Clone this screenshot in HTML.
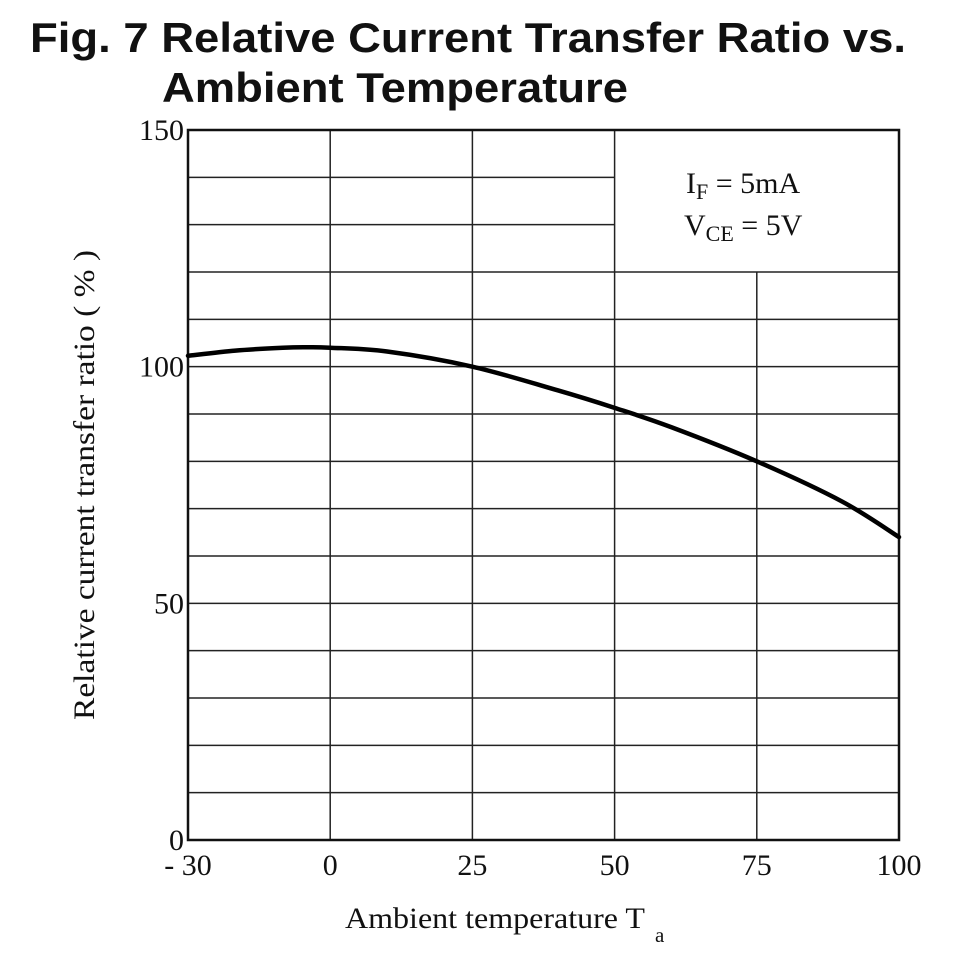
<!DOCTYPE html>
<html><head><meta charset="utf-8"><style>
html,body{margin:0;padding:0;background:#fff;}
svg{display:block;}
</style></head><body>
<svg id="chart" width="958" height="958" viewBox="0 0 958 958" xmlns="http://www.w3.org/2000/svg">
<text x="30" y="52" textLength="876" lengthAdjust="spacingAndGlyphs" font-family="Liberation Sans, sans-serif" font-weight="bold" font-size="42" fill="#111">Fig. 7 Relative Current Transfer Ratio vs.</text>
<text x="162" y="102" textLength="466" lengthAdjust="spacingAndGlyphs" font-family="Liberation Sans, sans-serif" font-weight="bold" font-size="42" fill="#111">Ambient Temperature</text>
<g id="grid"></g>
<g id="ticks"></g>
<g id="legend">
<text x="686" y="193" font-family="Liberation Serif, serif" font-size="30" fill="#111">I<tspan font-size="22" dy="6">F</tspan><tspan dy="-6"> = 5mA</tspan></text>
<text x="684" y="235" font-family="Liberation Serif, serif" font-size="30" fill="#111">V<tspan font-size="22" dy="6">CE</tspan><tspan dy="-6"> = 5V</tspan></text>
</g>
<g id="series"></g>
<text x="345" y="928" font-family="Liberation Serif, serif" font-size="30" fill="#111"><tspan textLength="300" lengthAdjust="spacingAndGlyphs">Ambient temperature T</tspan><tspan font-size="21" dx="10" dy="14">a</tspan></text>
<text transform="translate(94,485) rotate(-90)" text-anchor="middle" textLength="470" lengthAdjust="spacingAndGlyphs" font-family="Liberation Serif, serif" font-size="30" fill="#111">Relative current transfer ratio ( % )</text>
</svg>
<script>
const xTicks=[-30,0,25,50,75,100];
const xTickLabels=["- 30","0","25","50","75","100"];
const yTicks=[0,50,100,150];
const temps=[-30,-20,-10,-5,0,10,25,40,50,60,75,90,100];
const ctr=[102.3,103.4,104.0,104.1,104.0,103.2,100.0,95.0,91.3,87.2,80.0,71.5,64.0];
const L=188,R=899,T=130,B=840,NS="http://www.w3.org/2000/svg";
function xs(v){const step=(R-L)/(xTicks.length-1);
 for(let i=0;i<xTicks.length-1;i++){if(v<=xTicks[i+1]||i===xTicks.length-2){const f=(v-xTicks[i])/(xTicks[i+1]-xTicks[i]);return L+step*(i+f);}}}
function ys(v){return B-(v-0)/(150-0)*(B-T);}
function mk(tag,a,p){const e=document.createElementNS(NS,tag);for(const k in a)e.setAttribute(k,a[k]);p.appendChild(e);return e;}
const g=document.getElementById('grid'),tk=document.getElementById('ticks'),s=document.getElementById('series');
const legX=xs(50),legY=ys(120);
for(let v=10;v<150;v+=10){const y=ys(v);const x2=(v>120)?legX:R;
 const l=mk('line',{x1:L,x2:x2,y1:y,y2:y,stroke:'#222','stroke-width':1.5},g);
 
 }
xTicks.slice(1,-1).forEach(t=>{const x=xs(t);const y1=(t>50)?legY:T;
 const l=mk('line',{x1:x,x2:x,y1:y1,y2:B,stroke:'#222','stroke-width':1.5},g);
 
 });
const fr=mk('rect',{x:L,y:T,width:R-L,height:B-T,fill:'none',stroke:'#111','stroke-width':2.5},g);


xTicks.forEach((t,i)=>{const e=mk('text',{x:xs(t),y:875,'text-anchor':'middle','font-family':'Liberation Serif, serif','font-size':30,fill:'#111'},tk);e.textContent=xTickLabels[i];
 
 });
yTicks.forEach(t=>{const e=mk('text',{x:184,y:ys(t)+10,'text-anchor':'end','font-family':'Liberation Serif, serif','font-size':30,fill:'#111'},tk);e.textContent=String(t);
 
 });
const pts=temps.map((t,i)=>[xs(t),ys(ctr[i])]);
let d='M'+pts[0][0]+','+pts[0][1];
for(let i=0;i<pts.length-1;i++){const p0=pts[Math.max(0,i-1)],p1=pts[i],p2=pts[i+1],p3=pts[Math.min(pts.length-1,i+2)];
 d+=' C'+(p1[0]+(p2[0]-p0[0])/6)+','+(p1[1]+(p2[1]-p0[1])/6)+' '+(p2[0]-(p3[0]-p1[0])/6)+','+(p2[1]-(p3[1]-p1[1])/6)+' '+p2[0]+','+p2[1];}
const c=mk('path',{d:d,fill:'none',stroke:'#000','stroke-width':4.5,'stroke-linecap':'round'},s);


</script>
</body></html>
